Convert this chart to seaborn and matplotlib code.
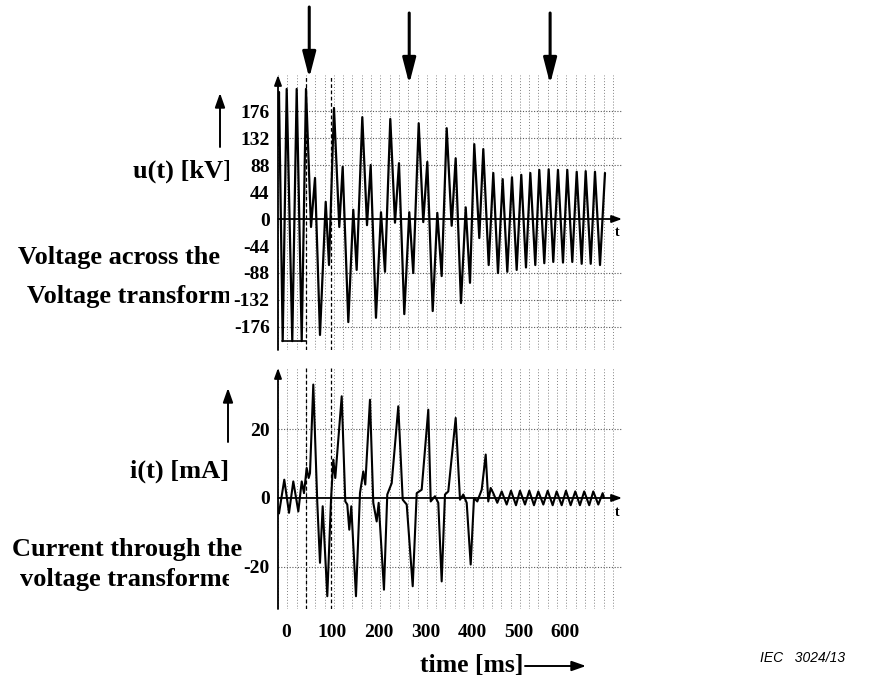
import pandas as pd
import seaborn as sns
import matplotlib.pyplot as plt
from matplotlib.ticker import MultipleLocator
from matplotlib.transforms import Bbox, TransformedBbox

# voltage trace, turning points (ms, kV)
u_time = [-17.5, -15.1, -7.1, 1.5, 13.5, 23.0, 33.8, 43.0, 53.8, 62.4, 73.1, 85.4,
          92.5, 103.2, 114.6, 121.9, 134.0, 144.7, 152.0, 164.1, 174.2, 182.1,
          193.5, 204.3, 212.9, 224.3, 234.4, 243.0, 254.4, 265.1, 273.7, 285.4,
          295.2, 303.9, 315.5, 325.4, 334.8, 345.6, 356.3, 364.9, 376.3, 386.5,
          395.7, 404.9, 415.7, 424.3, 435.9, 445.8, 455.9, 466.0, 475.9, 486.0,
          496.1, 506.0, 516.1, 525.4, 536.1, 544.7, 555.5, 564.9, 574.8, 584.9,
          595.7, 604.9, 615.7, 625.2, 635.9, 644.5, 655.3, 664.5, 675.3, 686.0]
u_kv = [120, 207, -199, 212, -199, 212, -199, 212, -13, 67, -189, 28,
        -75, 181, -13, 85, -168, 15, -83, 166, -10, 88,
        -161, 11, -86, 163, -6, 91, -155, 11, -88, 156,
        -5, 93, -150, 10, -93, 148, -11, 99, -137, 19,
        -104, 122, -31, 114, -75, 75, -88, 65, -86, 68,
        -83, 72, -79, 75, -75, 80, -72, 81, -70, 80,
        -71, 80, -70, 77, -73, 78, -73, 77, -75, 75]

# current trace (ms, mA)
i_time = [-17.8, -15.1, -3.7, 6.5, 15.7, 26.5, 33.8, 38.7, 44.5, 48.8, 51.6, 58.7,
          67.3, 73.1, 78.9, 88.8, 96.8, 101.7, 106.0, 119.8, 127.5, 131.8, 136.1,
          140.4, 150.5, 159.1, 166.2, 170.5, 180.6, 187.7, 195.0, 199.3, 210.7,
          217.8, 227.3, 241.5, 251.0, 259.6, 272.5, 281.1, 291.8, 306.0, 311.2,
          320.4, 327.5, 334.8, 341.9, 349.0, 364.9, 374.2, 381.3, 388.6, 397.2,
          404.3, 411.4, 420.9, 429.5, 435.0, 440.2, 445.8, 454.4, 463.9, 474.6,
          483.9, 494.6, 503.2, 514.0, 523.2, 533.3, 542.6, 553.4, 562.8, 573.5,
          582.1, 592.9, 602.1, 612.2, 622.1, 632.1, 641.3, 652.1, 660.8, 671.6,
          681.0, 683.9]
i_ma = [-2.9, -4.5, 5.3, -4.3, 4.8, -3.9, 4.8, 1.4, 8.7, 5.8, 7.2, 32.9,
        -1.4, -18.8, -2.4, -28.5, -0.5, 11.1, 5.8, 29.5, -1.0, -1.9, -9.2,
        -2.4, -28.5, 1.4, 7.7, 3.9, 28.5, -1.4, -6.8, -1.4, -26.6,
        1.0, 4.3, 26.6, -0.5, -1.9, -25.6, 1.4, 2.4, 25.6, -1.0,
        0.5, -1.4, -24.2, 1.0, 1.9, 23.2, -0.5, 1.0, -1.4, -19.3,
        0.0, -1.0, 2.4, 12.6, -1.0, 2.9, 1.4, -1.4, 1.9, -1.9,
        2.1, -2.1, 2.1, -1.9, 2.1, -2.1, 1.9, -1.9, 2.1, -2.1,
        1.9, -2.1, 2.1, -2.1, 1.9, -2.1, 1.9, -2.1, 1.9, -1.9,
        1.4, 0.0]

clip_time = [-9, 43]
clip_kv = [-199, -199]

u_ticks = [176, 132, 88, 44, 0, -44, -88, -132, -176]
u_grid = [176, 132, 88, -88, -132, -176]
i_ticks = [20, 0, -20]
i_grid = [20, -20]
t_ticks = [0, 100, 200, 300, 400, 500, 600]
marker_lines = [43, 97]
event_times = [50, 265, 568]

W, H = 873, 677
T_MIN, T_MAX = -17.2, 722.6


def fx(px):
    return px / W


def fy(py):
    return 1 - py / H


sns.set_theme(style='white', rc={'text.color': 'black', 'xtick.color': 'black',
                                 'ytick.color': 'black', 'axes.labelcolor': 'black'})
plt.rcParams['font.family'] = ['Liberation Serif', 'DejaVu Serif']
plt.rcParams['font.weight'] = 'bold'

fig = plt.figure(figsize=(W / 100, H / 100), dpi=100)
ax_u = fig.add_axes([fx(278), fy(350), fx(622) - fx(278), fy(75) - fy(350)])
ax_i = fig.add_axes([fx(278), fy(609), fx(622) - fx(278), fy(368) - fy(609)])

df_u = pd.DataFrame({'t': u_time, 'u': u_kv})
df_i = pd.DataFrame({'t': i_time, 'i': i_ma})

sns.lineplot(data=df_u, x='t', y='u', ax=ax_u, color='black', linewidth=1.6,
             estimator=None, sort=False)
ax_u.plot(clip_time, clip_kv, color='black', lw=1.2)
sns.lineplot(data=df_i, x='t', y='i', ax=ax_i, color='black', linewidth=1.5,
             estimator=None, sort=False)

ax_u.set_ylim(-213.5, 234.7)
ax_i.set_ylim(-32.2, 37.7)

axis_arrow = dict(arrowstyle='-|>,head_length=0.6,head_width=0.22', color='black',
                  lw=1.3, shrinkA=0, shrinkB=0, mutation_scale=10)

for ax, ylo, yhi, hgrid in [(ax_u, -213.5, 234.7, u_grid), (ax_i, -32.2, 37.7, i_grid)]:
    ax.set_xlim(T_MIN, T_MAX)
    for s in ax.spines.values():
        s.set_visible(False)
    ax.set_xlabel('')
    ax.set_ylabel('')
    ax.xaxis.set_minor_locator(MultipleLocator(20, offset=3))
    ax.grid(which='minor', axis='x', color='0.5', ls=(0, (1, 2)), lw=0.7)
    for v in hgrid:
        ax.axhline(v, color='0.35', ls=(0, (1, 1.5)), lw=0.8, zorder=1)
    for v in marker_lines:
        ax.axvline(v, color='black', ls=(0, (3, 2)), lw=0.9, zorder=1)
    ax.tick_params(which='both', length=0)
    ax.tick_params(axis='y', pad=6)
    ax.annotate('', xy=(T_MAX, 0), xytext=(T_MIN, 0), arrowprops=axis_arrow,
                annotation_clip=False)
    ax.annotate('', xy=(T_MIN, yhi), xytext=(T_MIN, ylo), arrowprops=axis_arrow,
                annotation_clip=False)

ax_u.set_xticks([])
ax_u.set_yticks(u_ticks)
ax_u.set_yticklabels([str(v) for v in u_ticks], fontsize=14, fontweight='bold')
ax_i.set_yticks(i_ticks)
ax_i.set_yticklabels([str(v) for v in i_ticks], fontsize=14, fontweight='bold')
ax_i.set_xticks(t_ticks)
ax_i.set_xticklabels([str(v) for v in t_ticks], fontsize=14, fontweight='bold')
ax_i.tick_params(axis='x', pad=11)

fig.text(fx(617), fy(233), 't', fontsize=10, ha='center', va='center')
fig.text(fx(617), fy(512), 't', fontsize=10, ha='center', va='center')

# event arrows above the voltage trace
big_arrow = dict(arrowstyle='-|>,head_length=1.55,head_width=0.4', color='black',
                 lw=2.2, shrinkA=0, shrinkB=0, mutation_scale=10)
for k, t in enumerate(event_times):
    top = 7 if k == 0 else 13
    ax_u.annotate('', xy=(t, fy(top + 71)), xytext=(t, fy(top)),
                  xycoords=('data', 'figure fraction'),
                  textcoords=('data', 'figure fraction'),
                  arrowprops=big_arrow, annotation_clip=False)

# side labels, cut off by the plot frame as in the scan
small_arrow = dict(arrowstyle='-|>,head_length=0.85,head_width=0.3', color='black',
                   lw=1.4, shrinkA=0, shrinkB=0, mutation_scale=10)
ax_u.annotate('', xy=(fx(220), fy(93)), xytext=(fx(220), fy(147)),
              xycoords='figure fraction', arrowprops=small_arrow, annotation_clip=False)
ax_u.annotate('', xy=(fx(228), fy(388)), xytext=(fx(228), fy(442)),
              xycoords='figure fraction', arrowprops=small_arrow, annotation_clip=False)

side_labels = [
    (133, 178, 'u(t) [kV]', 229),
    (18, 264, 'Voltage across the', 229),
    (27, 303, 'Voltage transform', 229),
    (130, 478, 'i(t) [mA]', 229),
    (12, 556, 'Current through the', 243),
    (20, 586, 'voltage transforme', 229),
]
for x, y, s, cut in side_labels:
    txt = fig.text(fx(x), fy(y), s, fontsize=19, ha='left', va='baseline')
    txt.set_clip_box(TransformedBbox(Bbox.from_extents(0, 0, fx(cut), 1), fig.transFigure))
    txt.set_clip_on(True)

fig.text(fx(420), fy(672), 'time [ms]', fontsize=18.5, ha='left', va='baseline')
ax_i.annotate('', xy=(fx(586), fy(666)), xytext=(fx(525), fy(666)),
              xycoords='figure fraction', arrowprops=small_arrow, annotation_clip=False)

fig.text(fx(760), fy(658), 'IEC   3024/13', family='Liberation Sans', style='italic',
         fontweight='normal', fontsize=10, ha='left', va='center')

fig.savefig('out.png', dpi=100)
